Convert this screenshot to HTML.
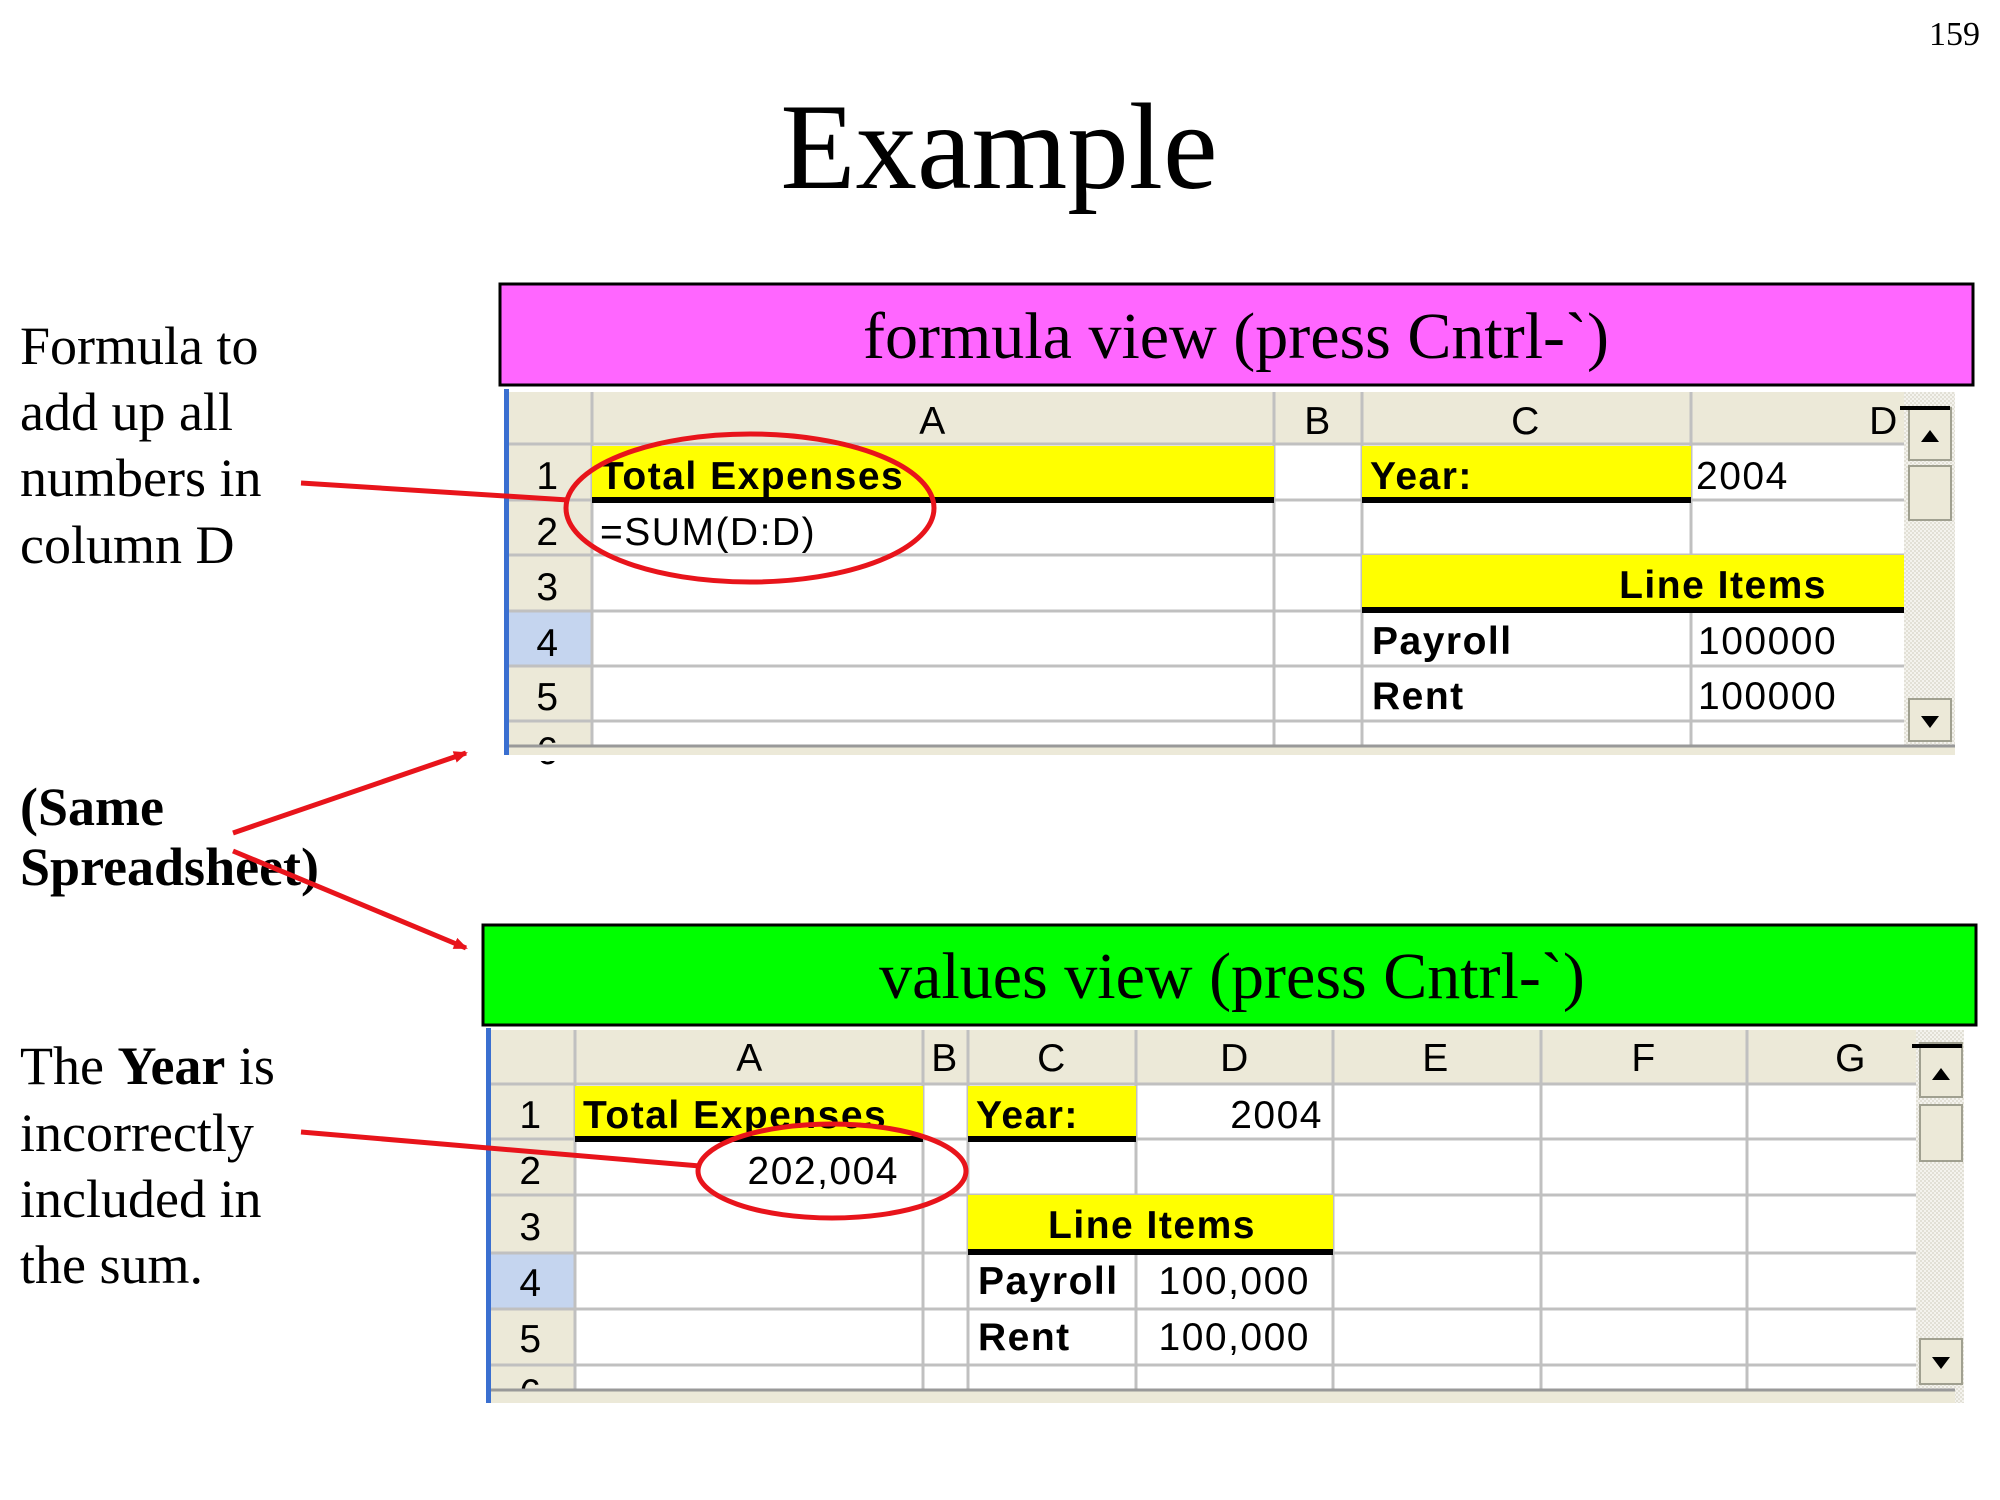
<!DOCTYPE html>
<html><head><meta charset="utf-8"><style>
html,body{margin:0;padding:0;background:#fff;width:2000px;height:1500px;overflow:hidden}
svg{display:block}
.t{font-family:"Liberation Serif",serif}
.s{font-family:"Liberation Sans",sans-serif;font-size:39px;letter-spacing:1.5px}
.b{font-weight:bold}
</style></head><body>
<svg width="2000" height="1500" viewBox="0 0 2000 1500">
<defs>
<pattern id="chk" width="4" height="4" patternUnits="userSpaceOnUse"><rect width="4" height="4" fill="#f4f3ee"/><rect width="2" height="2" fill="#e2e0d6"/><rect x="2" y="2" width="2" height="2" fill="#e2e0d6"/></pattern>
<marker id="ah" markerWidth="14" markerHeight="12" refX="12" refY="6" orient="auto" markerUnits="userSpaceOnUse" viewBox="0 0 14 12"><path d="M0,0 L14,6 L0,12 z" fill="#e8141b"/></marker>
</defs>
<text x="1980" y="45" text-anchor="end" class="t" font-size="34">159</text>
<text x="999" y="188" text-anchor="middle" class="t" font-size="123">Example</text>

<g class="t" font-size="54">
<text x="20" y="364">Formula to</text>
<text x="20" y="430">add up all</text>
<text x="20" y="496">numbers in</text>
<text x="20" y="563">column D</text>
<text x="20" y="825" font-weight="bold">(Same</text>
<text x="20" y="885" font-weight="bold">Spreadsheet)</text>
<text x="20" y="1084">The <tspan font-weight="bold">Year</tspan> is</text>
<text x="20" y="1151">incorrectly</text>
<text x="20" y="1217">included in</text>
<text x="20" y="1283">the sum.</text>
</g>

<!-- formula view -->
<rect x="500" y="284" width="1473" height="101" fill="#ff66ff" stroke="#000" stroke-width="3"/>
<text x="1236" y="358" text-anchor="middle" class="t" font-size="66">formula view (press Cntrl-`)</text>
<g>
<rect x="504" y="389" width="1451" height="366" fill="#fff"/>
<rect x="504" y="389" width="5" height="366" fill="#3a6fd0"/>
<rect x="509" y="392" width="1395" height="52" fill="#ece9d8"/>
<rect x="509" y="444" width="83" height="311" fill="#ece9d8"/>
<rect x="509" y="611" width="83" height="55" fill="#c5d5ef"/>
<line x1="509" y1="666" x2="592" y2="666" stroke="#3a6fd0" stroke-width="3"/>
<line x1="592" y1="611" x2="592" y2="666" stroke="#3a6fd0" stroke-width="3"/>
<g stroke="#c0c0c0" stroke-width="3">
<line x1="509" y1="444" x2="1904" y2="444"/>
<line x1="509" y1="500" x2="1904" y2="500"/>
<line x1="509" y1="555" x2="1904" y2="555"/>
<line x1="509" y1="611" x2="1904" y2="611"/>
<line x1="509" y1="666" x2="1904" y2="666"/>
<line x1="509" y1="721" x2="1904" y2="721"/>
<line x1="592" y1="392" x2="592" y2="746"/>
<line x1="1274" y1="392" x2="1274" y2="746"/>
<line x1="1362" y1="392" x2="1362" y2="746"/>
<line x1="1691" y1="392" x2="1691" y2="746"/>
</g>
<rect x="592" y="446" width="682" height="54" fill="#ffff00"/>
<rect x="592" y="497" width="682" height="6" fill="#000"/>
<rect x="1362" y="446" width="329" height="54" fill="#ffff00"/>
<rect x="1362" y="497" width="329" height="6" fill="#000"/>
<rect x="1362" y="555" width="542" height="55" fill="#ffff00"/>
<rect x="1362" y="607" width="542" height="6" fill="#000"/>
<g class="s" text-anchor="middle">
<text x="933" y="434">A</text><text x="1318" y="434">B</text><text x="1526" y="434">C</text><text x="1884" y="434">D</text>
<text x="548" y="489">1</text><text x="548" y="545">2</text><text x="548" y="600">3</text><text x="548" y="656">4</text><text x="548" y="710">5</text><text x="548" y="764">6</text>
</g>
<g class="s">
<text x="600" y="489" class="b">Total Expenses</text>
<text x="600" y="545">=SUM(D:D)</text>
<text x="1370" y="489" class="b">Year:</text>
<text x="1696" y="489">2004</text>
<text x="1827" y="598" class="b" text-anchor="end">Line Items</text>
<text x="1372" y="654" class="b">Payroll</text><text x="1698" y="654">100000</text>
<text x="1372" y="709" class="b">Rent</text><text x="1698" y="709">100000</text>
</g>
<rect x="1904" y="392" width="51" height="363" fill="url(#chk)"/>
<rect x="1909" y="408" width="42" height="52" fill="#ece9d8" stroke="#a0a090" stroke-width="2"/>
<path d="M1921,442 L1939,442 L1930,430 z" fill="#000"/>
<rect x="1909" y="466" width="42" height="54" fill="#ece9d8" stroke="#a0a090" stroke-width="2"/>
<rect x="1909" y="699" width="42" height="42" fill="#ece9d8" stroke="#a0a090" stroke-width="2"/>
<path d="M1921,716 L1939,716 L1930,728 z" fill="#000"/>
<rect x="1900" y="406" width="50" height="4" fill="#000"/>
<rect x="509" y="746" width="1446" height="9" fill="#ece9d8"/>
<line x1="509" y1="746" x2="1955" y2="746" stroke="#999" stroke-width="3"/>
<rect x="504" y="755" width="1460" height="6" fill="#fff"/>
</g>

<!-- values view -->
<rect x="483" y="925" width="1493" height="100" fill="#00ff00" stroke="#000" stroke-width="3"/>
<text x="1232" y="998" text-anchor="middle" class="t" font-size="66">values view (press Cntrl-`)</text>
<g>
<rect x="486" y="1028" width="1469" height="375" fill="#fff"/>
<rect x="486" y="1028" width="5" height="375" fill="#3a6fd0"/>
<rect x="491" y="1030" width="1425" height="54" fill="#ece9d8"/>
<rect x="491" y="1084" width="84" height="319" fill="#ece9d8"/>
<rect x="491" y="1253" width="84" height="56" fill="#c5d5ef"/>
<line x1="491" y1="1309" x2="575" y2="1309" stroke="#3a6fd0" stroke-width="3"/>
<line x1="575" y1="1253" x2="575" y2="1309" stroke="#3a6fd0" stroke-width="3"/>
<g stroke="#c0c0c0" stroke-width="3">
<line x1="491" y1="1084" x2="1916" y2="1084"/>
<line x1="491" y1="1139" x2="1916" y2="1139"/>
<line x1="491" y1="1195" x2="1916" y2="1195"/>
<line x1="491" y1="1253" x2="1916" y2="1253"/>
<line x1="491" y1="1309" x2="1916" y2="1309"/>
<line x1="491" y1="1365" x2="1916" y2="1365"/>
<line x1="575" y1="1030" x2="575" y2="1390"/>
<line x1="923" y1="1030" x2="923" y2="1390"/>
<line x1="968" y1="1030" x2="968" y2="1390"/>
<line x1="1136" y1="1030" x2="1136" y2="1390"/>
<line x1="1333" y1="1030" x2="1333" y2="1390"/>
<line x1="1541" y1="1030" x2="1541" y2="1390"/>
<line x1="1747" y1="1030" x2="1747" y2="1390"/>
</g>
<rect x="575" y="1086" width="348" height="53" fill="#ffff00"/>
<rect x="575" y="1136" width="348" height="6" fill="#000"/>
<rect x="968" y="1086" width="168" height="53" fill="#ffff00"/>
<rect x="968" y="1136" width="168" height="6" fill="#000"/>
<rect x="968" y="1195" width="365" height="56" fill="#ffff00"/>
<rect x="968" y="1249" width="365" height="6" fill="#000"/>
<g class="s" text-anchor="middle">
<text x="750" y="1071">A</text><text x="945" y="1071">B</text><text x="1052" y="1071">C</text><text x="1235" y="1071">D</text><text x="1436" y="1071">E</text><text x="1644" y="1071">F</text><text x="1851" y="1071">G</text>
<text x="531" y="1128">1</text><text x="531" y="1184">2</text><text x="531" y="1240">3</text><text x="531" y="1296">4</text><text x="531" y="1352">5</text><text x="531" y="1406">6</text>
</g>
<g class="s">
<text x="583" y="1128" class="b">Total Expenses</text>
<text x="976" y="1128" class="b">Year:</text>
<text x="1323" y="1128" text-anchor="end">2004</text>
<text x="899" y="1184" text-anchor="end">202,004</text>
<text x="1152" y="1238" class="b" text-anchor="middle">Line Items</text>
<text x="978" y="1294" class="b">Payroll</text><text x="1310" y="1294" text-anchor="end">100,000</text>
<text x="978" y="1350" class="b">Rent</text><text x="1310" y="1350" text-anchor="end">100,000</text>
</g>
<rect x="1916" y="1030" width="48" height="373" fill="url(#chk)"/>
<rect x="1920" y="1043" width="42" height="54" fill="#ece9d8" stroke="#a0a090" stroke-width="2"/>
<path d="M1932,1080 L1950,1080 L1941,1068 z" fill="#000"/>
<rect x="1920" y="1105" width="42" height="56" fill="#ece9d8" stroke="#a0a090" stroke-width="2"/>
<rect x="1920" y="1339" width="42" height="45" fill="#ece9d8" stroke="#a0a090" stroke-width="2"/>
<path d="M1932,1357 L1950,1357 L1941,1369 z" fill="#000"/>
<rect x="1912" y="1044" width="50" height="4" fill="#000"/>
<rect x="491" y="1390" width="1464" height="13" fill="#ece9d8"/>
<line x1="491" y1="1390" x2="1955" y2="1390" stroke="#999" stroke-width="3"/>
<rect x="480" y="1403" width="1490" height="20" fill="#fff"/>
</g>

<g stroke="#e8141b" stroke-width="5" fill="none">
<ellipse cx="750" cy="508" rx="184" ry="74"/>
<line x1="301" y1="483" x2="568" y2="500"/>
<ellipse cx="832" cy="1171" rx="134" ry="47"/>
<line x1="301" y1="1132" x2="700" y2="1166"/>
<line x1="233" y1="833" x2="466" y2="753" marker-end="url(#ah)"/>
<line x1="233" y1="851" x2="466" y2="948" marker-end="url(#ah)"/>
</g>
</svg>
</body></html>
